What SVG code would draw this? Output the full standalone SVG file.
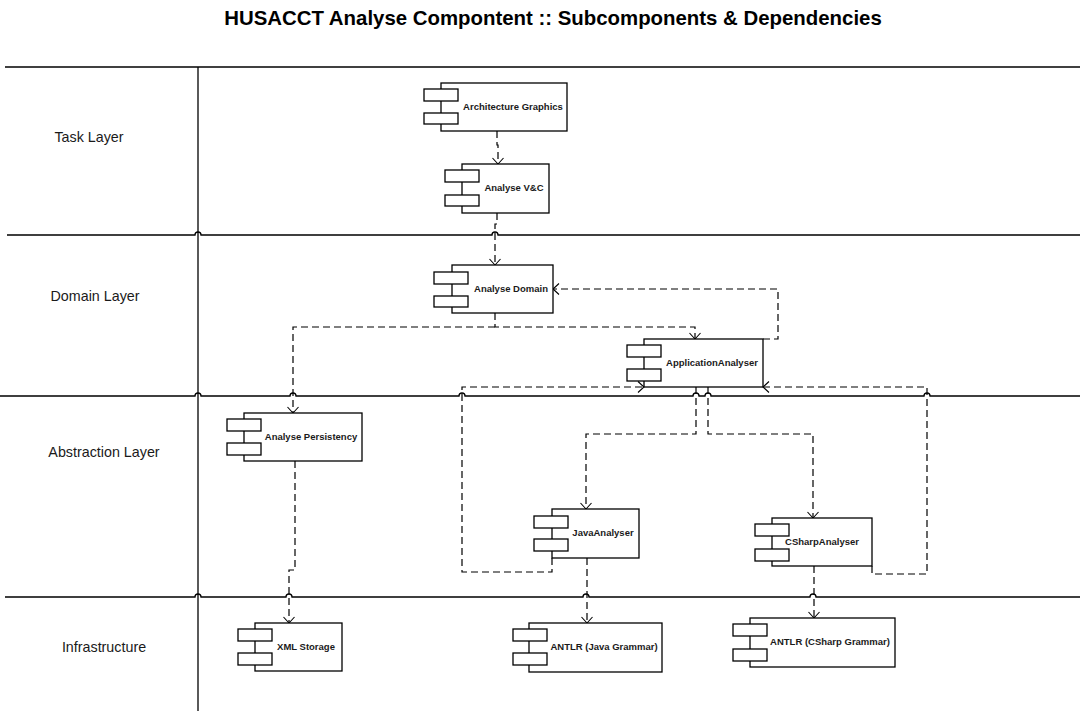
<svg xmlns="http://www.w3.org/2000/svg" width="1080" height="711" viewBox="0 0 1080 711">
<style>
.bg{fill:#fff}
.box{fill:#fff;stroke:#000;stroke-width:1.3}
.tab{fill:#fff;stroke:#000;stroke-width:1.3}
.lbl{font-family:"Liberation Sans",Arial,sans-serif;font-weight:bold;font-size:9.5px;fill:#1a1a1a;text-anchor:middle}
.layer{font-family:"Liberation Sans",Arial,sans-serif;font-size:14.3px;fill:#1a1a1a;text-anchor:middle}
.title{font-family:"Liberation Sans",Arial,sans-serif;font-weight:bold;font-size:20.4px;fill:#000;text-anchor:middle}
.lane{fill:none;stroke:#000;stroke-width:1.3}
.dep{fill:none;stroke:#000;stroke-width:1.2;stroke-dasharray:7,4;marker-end:url(#open)}
</style>
<defs>
<marker id="open" markerUnits="userSpaceOnUse" markerWidth="14" markerHeight="14" refX="0" refY="0" viewBox="-8 -7 10 14" orient="auto" overflow="visible">
<path d="M-6,-5.5 L0,0 L-6,5.5" fill="none" stroke="#000" stroke-width="1.1"/>
</marker>
</defs>
<rect class="bg" x="0" y="0" width="1080" height="711"/>
<text class="title" x="553" y="25">HUSACCT Analyse Compontent :: Subcomponents &amp; Dependencies</text>

<g id="lanes">
<path class="lane" d="M5,67 H1080" stroke-width="2"/>
<path class="lane" d="M198,67 V711"/>
<path class="lane" d="M7,235 H195 a3,3 0 0 1 6,0 H492 a3,3 0 0 1 6,0 H1080"/>
<path class="lane" d="M0,396 H195 a3,3 0 0 1 6,0 H290 a3,3 0 0 1 6,0 H459 a3,3 0 0 1 6,0 H693 a3,3 0 0 1 6,0 H705 a3,3 0 0 1 6,0 H924 a3,3 0 0 1 6,0 H1080"/>
<path class="lane" d="M5,597 H195 a3,3 0 0 1 6,0 H286 a3,3 0 0 1 6,0 H583 a3,3 0 0 1 6,0 H810 a3,3 0 0 1 6,0 H1080"/>
<text class="layer" x="89" y="142">Task Layer</text>
<text class="layer" x="95" y="301">Domain Layer</text>
<text class="layer" x="104" y="457">Abstraction Layer</text>
<text class="layer" x="104" y="652">Infrastructure</text>
</g>

<g id="connectors">
<path class="dep" d="M497,131 V145 H498 V164"/>
<path class="dep" d="M497,213 V224 H495 V265"/>
<path class="dep" d="M495,313 V327 H695 V339"/>
<path class="dep" d="M495,327 H293 V413"/>
<path class="dep" d="M763,339 H778 V289 H553"/>
<path class="dep" d="M295,461 V570 H289 V623"/>
<path class="dep" d="M696,387 V434 H586 V509"/>
<path class="dep" d="M708,387 V434 H813 V518"/>
<path class="dep" d="M552,558 V572 H462 V387 H644"/>
<path class="dep" d="M872,566 V574 H927 V387 H763"/>
<path class="dep" d="M587,558 V623"/>
<path class="dep" d="M814,566 V618"/>
</g>

<g id="architecture-graphics">
<rect class="box" x="441" y="83" width="126" height="48"/>
<rect class="tab" x="424" y="89" width="34" height="12"/>
<rect class="tab" x="424" y="113" width="34" height="11"/>
<text class="lbl" x="513" y="110">Architecture Graphics</text>
</g>
<g id="analyse-vc">
<rect class="box" x="462" y="164" width="87" height="49"/>
<rect class="tab" x="445" y="170" width="34" height="12"/>
<rect class="tab" x="445" y="195" width="34" height="11"/>
<text class="lbl" x="514" y="191">Analyse V&amp;C</text>
</g>
<g id="analyse-domain">
<rect class="box" x="452" y="265" width="101" height="48"/>
<rect class="tab" x="434" y="272" width="34" height="12"/>
<rect class="tab" x="434" y="296" width="34" height="11"/>
<text class="lbl" x="511" y="292">Analyse Domain</text>
</g>
<g id="application-analyser">
<rect class="box" x="644" y="339" width="119" height="48"/>
<rect class="tab" x="627" y="345" width="34" height="12"/>
<rect class="tab" x="627" y="369" width="34" height="12"/>
<text class="lbl" x="712" y="366">ApplicationAnalyser</text>
</g>
<g id="analyse-persistency">
<rect class="box" x="244" y="413" width="118" height="48"/>
<rect class="tab" x="227" y="419" width="34" height="12"/>
<rect class="tab" x="227" y="443" width="34" height="12"/>
<text class="lbl" x="311" y="440">Analyse Persistency</text>
</g>
<g id="java-analyser">
<rect class="box" x="552" y="509" width="87" height="49"/>
<rect class="tab" x="534" y="516" width="34" height="12"/>
<rect class="tab" x="534" y="539" width="34" height="12"/>
<text class="lbl" x="603" y="536">JavaAnalyser</text>
</g>
<g id="csharp-analyser">
<rect class="box" x="772" y="518" width="100" height="48"/>
<rect class="tab" x="755" y="524" width="34" height="12"/>
<rect class="tab" x="755" y="549" width="34" height="12"/>
<text class="lbl" x="822" y="545">CSharpAnalyser</text>
</g>
<g id="xml-storage">
<rect class="box" x="255" y="623" width="87" height="48"/>
<rect class="tab" x="238" y="629" width="34" height="12"/>
<rect class="tab" x="238" y="653" width="34" height="12"/>
<text class="lbl" x="306" y="650">XML Storage</text>
</g>
<g id="antlr-java">
<rect class="box" x="529" y="623" width="133" height="49"/>
<rect class="tab" x="513" y="629" width="34" height="12"/>
<rect class="tab" x="513" y="653" width="34" height="12"/>
<text class="lbl" x="604" y="650">ANTLR (Java Grammar)</text>
</g>
<g id="antlr-csharp">
<rect class="box" x="750" y="618" width="145" height="49"/>
<rect class="tab" x="733" y="624" width="34" height="12"/>
<rect class="tab" x="733" y="649" width="34" height="12"/>
<text class="lbl" x="830" y="645">ANTLR (CSharp Grammar)</text>
</g>
</svg>
